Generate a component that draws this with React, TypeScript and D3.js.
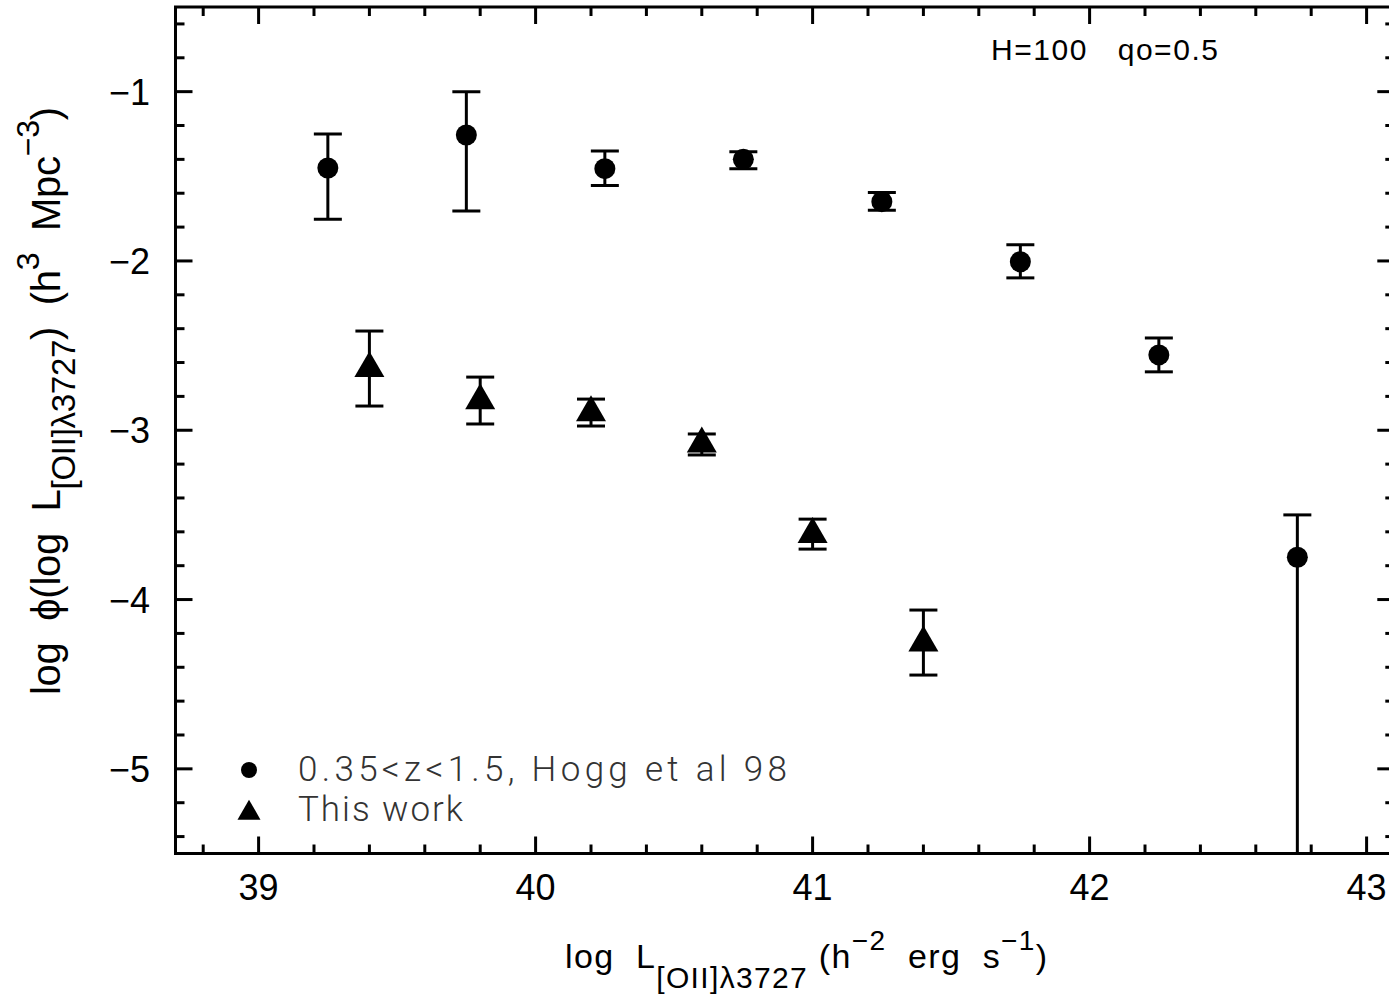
import React, { useEffect, useRef } from "react";
import * as d3 from "d3";

// Hogg et al 98, 0.35<z<1.5 (filled circles)
const hoggLogL = [39.25, 39.75, 40.25, 40.75, 41.25, 41.75, 42.25, 42.75];
const hoggLogPhi = [-1.451, -1.256, -1.455, -1.40, -1.65, -2.005, -2.555, -3.75];
const hoggUpper = [-1.25, -1.0, -1.35, -1.355, -1.595, -1.905, -2.455, -3.50];
const hoggLower = [-1.753, -1.705, -1.555, -1.455, -1.70, -2.10, -2.655, -6.0];

// This work (filled triangles)
const workLogL = [39.4, 39.8, 40.2, 40.6, 41.0, 41.4];
const workLogPhi = [-2.635, -2.825, -2.895, -3.08, -3.615, -4.255];
const workUpper = [-2.414, -2.686, -2.816, -3.022, -3.525, -4.062];
const workLower = [-2.857, -2.963, -2.975, -3.146, -3.702, -4.446];

const xMajorTicks = [39, 40, 41, 42, 43];
const yMajorTicks = [-1, -2, -3, -4, -5];
const legendLabels = ["0.35<z<1.5, Hogg et al 98", "This work"];
const annotation = "H=100   qo=0.5";

const W = 1389;
const H = 995;
const FONT = "'Liberation Sans', Arial, sans-serif";

function App() {
  const ref = useRef<SVGSVGElement>(null);

  useEffect(() => {
    const svg = d3.select(ref.current);
    svg.selectAll("*").remove();

    const x = d3.scaleLinear().domain([38.7, 43.1]).range([175.5, 175.5 + 4.4 * 277]);
    const y = d3.scaleLinear().domain([-5.5, -0.5]).range([853.5, 7]);

    const x0 = x(38.7), x1 = x(43.1), y0 = y(-0.5), y1 = y(-5.5);

    svg.append("defs").append("clipPath").attr("id", "frameclip")
      .append("rect").attr("x", x0).attr("y", y0).attr("width", x1 - x0).attr("height", y1 - y0);

    // minor tick positions, every 0.2
    const xMinor = d3.range(194, 216).map(i => i / 5).filter(v => !xMajorTicks.includes(v));
    const yMinor = d3.range(-27, -2).map(i => i / 5).filter(v => !yMajorTicks.includes(v));

    const ticks = svg.append("g").attr("stroke", "#000").attr("stroke-width", 3);
    const tickSet = (vals: number[], len: number) => {
      vals.forEach(v => {
        ticks.append("line").attr("x1", x(v)).attr("x2", x(v)).attr("y1", y1).attr("y2", y1 - len);
        ticks.append("line").attr("x1", x(v)).attr("x2", x(v)).attr("y1", y0).attr("y2", y0 + len);
      });
    };
    const tickSetY = (vals: number[], len: number) => {
      vals.forEach(v => {
        ticks.append("line").attr("y1", y(v)).attr("y2", y(v)).attr("x1", x0).attr("x2", x0 + len);
        ticks.append("line").attr("y1", y(v)).attr("y2", y(v)).attr("x1", x1).attr("x2", x1 - len);
      });
    };
    tickSet(xMajorTicks, 17);
    tickSet(xMinor, 9);
    tickSetY(yMajorTicks, 17);
    tickSetY(yMinor, 9);

    // frame
    svg.append("rect").attr("x", x0).attr("y", y0).attr("width", x1 - x0).attr("height", y1 - y0)
      .attr("fill", "none").attr("stroke", "#000").attr("stroke-width", 3);

    // tick labels
    svg.append("g").selectAll("text").data(xMajorTicks).enter().append("text")
      .attr("x", d => x(d)).attr("y", 900).attr("text-anchor", "middle")
      .attr("font-family", FONT).attr("font-size", 36).text(d => String(d));
    svg.append("g").selectAll("text").data(yMajorTicks).enter().append("text")
      .attr("x", 150).attr("y", d => y(d) + 13).attr("text-anchor", "end")
      .attr("font-family", FONT).attr("font-size", 36).text(d => "\u2212" + Math.abs(d));

    const plot = svg.append("g").attr("clip-path", "url(#frameclip)");

    const errorBars = (xs: number[], hi: number[], lo: number[]) => {
      const g = plot.append("g").attr("stroke", "#000").attr("stroke-width", 3);
      xs.forEach((v, i) => {
        const cx = x(v);
        g.append("line").attr("x1", cx).attr("x2", cx).attr("y1", y(hi[i])).attr("y2", y(lo[i]));
        g.append("line").attr("x1", cx - 14).attr("x2", cx + 14).attr("y1", y(hi[i])).attr("y2", y(hi[i]));
        g.append("line").attr("x1", cx - 14).attr("x2", cx + 14).attr("y1", y(lo[i])).attr("y2", y(lo[i]));
      });
    };
    errorBars(hoggLogL, hoggUpper, hoggLower);
    errorBars(workLogL, workUpper, workLower);

    plot.append("g").selectAll("circle").data(hoggLogL).enter().append("circle")
      .attr("cx", d => x(d)).attr("cy", (d, i) => y(hoggLogPhi[i])).attr("r", 10.5).attr("fill", "#000");

    // triangle about 30px wide
    const tri = d3.symbol().type(d3.symbolTriangle).size(390);
    plot.append("g").selectAll("path").data(workLogL).enter().append("path")
      .attr("d", tri() as string)
      .attr("transform", (d, i) => `translate(${x(d)},${y(workLogPhi[i])})`)
      .attr("fill", "#000");

    // legend
    svg.append("circle").attr("cx", 249).attr("cy", 770).attr("r", 8).attr("fill", "#000");
    const triSmall = d3.symbol().type(d3.symbolTriangle).size(230);
    svg.append("path").attr("d", triSmall() as string).attr("transform", "translate(249,813)").attr("fill", "#000");
    const legendWidths = [489, 165];
    legendLabels.forEach((t, i) => {
      svg.append("text").attr("x", 298).attr("y", 781 + i * 40)
        .attr("font-family", "Roboto, 'Liberation Sans', sans-serif").attr("font-weight", 300)
        .attr("font-size", 35).attr("fill", "#333")
        .attr("textLength", legendWidths[i]).attr("lengthAdjust", "spacing")
        .text(t);
    });

    // annotation
    svg.append("text").attr("x", 991).attr("y", 60).attr("font-family", FONT).attr("font-size", 30)
      .attr("textLength", 227).attr("lengthAdjust", "spacing")
      .style("white-space", "pre").text(annotation);

    // x axis title
    const xt = svg.append("text").attr("x", 565).attr("y", 968).attr("font-family", FONT)
      .attr("font-size", 34).attr("textLength", 482).attr("lengthAdjust", "spacing")
      .style("white-space", "pre");
    xt.append("tspan").text("log  L");
    xt.append("tspan").attr("font-size", 30).attr("dy", 20).text("[OII]\u03bb3727");
    xt.append("tspan").attr("dy", -20).text(" (h");
    xt.append("tspan").attr("font-size", 28).attr("dy", -18).text("\u22122");
    xt.append("tspan").attr("dy", 18).text("  erg  s");
    xt.append("tspan").attr("font-size", 28).attr("dy", -18).text("\u22121");
    xt.append("tspan").attr("dy", 18).text(")");

    // y axis title
    const yt = svg.append("text").attr("transform", "translate(60,695) rotate(-90)")
      .attr("font-family", FONT).attr("font-size", 40)
      .attr("textLength", 588).attr("lengthAdjust", "spacing")
      .style("white-space", "pre");
    yt.append("tspan").text("log  \u03d5(log  L");
    yt.append("tspan").attr("font-size", 33).attr("dy", 15).text("[OII]\u03bb3727");
    yt.append("tspan").attr("dy", -15).text(")  (h");
    yt.append("tspan").attr("font-size", 32).attr("dy", -21).text("3");
    yt.append("tspan").attr("dy", 21).text("  Mpc");
    yt.append("tspan").attr("font-size", 32).attr("dy", -21).text("\u22123");
    yt.append("tspan").attr("dy", 21).text(")");
  }, []);

  return (
    <svg ref={ref} width={W} height={H}
      style={{ position: "absolute", left: 0, top: 0, background: "#fff", display: "block" }} />
  );
}

export default App;
